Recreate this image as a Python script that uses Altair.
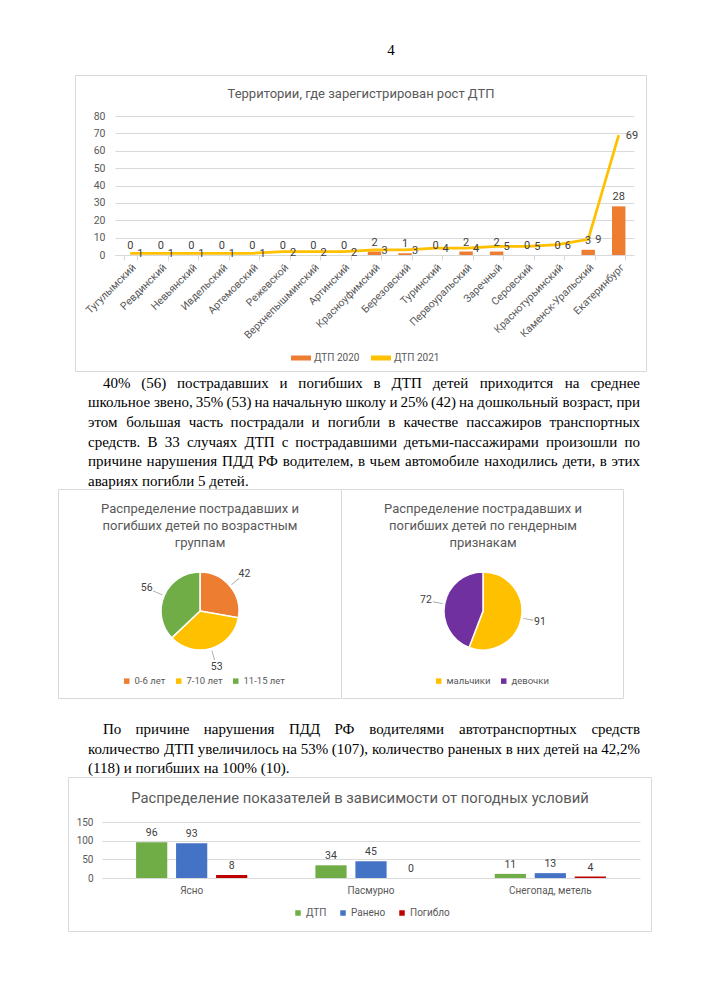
import altair as alt
import pandas as pd

# ---------------- data ----------------
page_number = "4"

territories = ["Тугулымский", "Ревдинский", "Невьянский", "Ивдельский", "Артемовский",
               "Режевской", "Верхнепышминский", "Артинский", "Красноуфимский", "Березовский",
               "Туринский", "Первоуральский", "Заречный", "Серовский", "Краснотурьинский",
               "Каменск-Уральский", "Екатеринбург"]
dtp_2020 = [0, 0, 0, 0, 0, 0, 0, 0, 2, 1, 0, 2, 2, 0, 0, 3, 28]
dtp_2021 = [1, 1, 1, 1, 1, 2, 2, 2, 3, 3, 4, 4, 5, 5, 6, 9, 69]
series_1 = ["ДТП 2020", "ДТП 2021"]
y1_ticks = [0, 10, 20, 30, 40, 50, 60, 70, 80]
title_1 = "Территории, где зарегистрирован рост ДТП"

para_1 = [
    "40% (56) пострадавших и погибших в ДТП детей приходится на среднее",
    "школьное звено, 35% (53) на начальную школу и 25% (42) на дошкольный возраст, при",
    "этом большая часть пострадали и погибли в качестве пассажиров транспортных",
    "средств. В 33 случаях ДТП с пострадавшими детьми-пассажирами произошли по",
    "причине нарушения ПДД РФ водителем, в чьем автомобиле находились дети, в этих",
    "авариях погибли 5 детей.",
]
para_2 = [
    "По причине нарушения ПДД РФ водителями автотранспортных средств",
    "количество ДТП увеличилось на 53% (107), количество раненых в них детей на 42,2%",
    "(118) и погибших на 100% (10).",
]

age_groups = ["0-6 лет", "7-10 лет", "11-15 лет"]
age_counts = [42, 53, 56]
title_age = ["Распределение пострадавших и", "погибших детей по возрастным", "группам"]

genders = ["мальчики", "девочки"]
gender_counts = [91, 72]
title_gender = ["Распределение пострадавших и", "погибших детей по гендерным", "признакам"]

weather = ["Ясно", "Пасмурно", "Снегопад, метель"]
series_3 = ["ДТП", "Ранено", "Погибло"]
w_dtp = [96, 34, 11]
w_injured = [93, 45, 13]
w_killed = [8, 0, 4]
y3_ticks = [0, 50, 100, 150]
title_3 = "Распределение показателей в зависимости от погодных условий"

# ---------------- styles ----------------
SANS = "Roboto"
SERIF = "Liberation Serif"
ORANGE, GOLD, GREEN = "#ED7D31", "#FFC000", "#70AD47"
BLUE, RED, PURPLE = "#4472C4", "#C00000", "#7030A0"
GRID = "#d9d9d9"
BORDER = "#d9d9d9"
TXT = "#595959"
LBL = "#404040"
PAGE_L, PAGE_R = 8, 699
TEXT_L, TEXT_R = 88, 640
INDENT = 15
LINE_H = 19.7
BODY_SIZE = 15

ONE = pd.DataFrame({"k": [0]})


def bg(px, py, x0, x1, y0, y1):
    # invisible rectangle that fixes the extent of a row
    return alt.Chart(ONE).mark_rect(opacity=0, strokeWidth=0).encode(
        x=alt.value(x0 - px), x2=alt.value(x1 - px),
        y=alt.value(y0 - py), y2=alt.value(y1 - py))


def spacer(w):
    return alt.Chart(ONE).mark_rect(opacity=0, strokeWidth=0).encode(
        x=alt.value(0), x2=alt.value(w), y=alt.value(0), y2=alt.value(1)
    ).properties(width=w, height=1)


def hrule(px, py, x0, x1, y):
    return alt.Chart(ONE).mark_rule(color=BORDER, strokeWidth=1).encode(
        x=alt.value(x0 - px), x2=alt.value(x1 - px), y=alt.value(y - py))


def vrule(px, py, x, y0, y1):
    return alt.Chart(ONE).mark_rule(color=BORDER, strokeWidth=1).encode(
        x=alt.value(x - px), y=alt.value(y0 - py), y2=alt.value(y1 - py))


def frame(px, py, x0, x1, y0, y1, sides="tblr"):
    out = []
    if "t" in sides:
        out.append(hrule(px, py, x0 + 0.5, x1 - 0.5, y0 + 0.5))
    if "b" in sides:
        out.append(hrule(px, py, x0 + 0.5, x1 - 0.5, y1 - 0.5))
    if "l" in sides:
        out.append(vrule(px, py, x0 + 0.5, y0 + 0.5, y1 - 0.5))
    if "r" in sides:
        out.append(vrule(px, py, x1 - 0.5, y0 + 0.5, y1 - 0.5))
    return out


def label(px, py, x, y, text, size, color=TXT, font=SANS, align="center", baseline="middle"):
    return alt.Chart(ONE).mark_text(text=text, fontSize=size, color=color, font=font,
                                    align=align, baseline=baseline).encode(
        x=alt.value(x - px), y=alt.value(y - py))


# Times New Roman / Liberation Serif advance widths (1/1000 em), for justification
CW = {" ": 250, "%": 833, "(": 333, ")": 333, ",": 250, ".": 250, "-": 333}
for d in "0123456789":
    CW[d] = 500
CW.update(dict(zip("абвгдеёжзийклмнопрстуфхцчшщъыьэюя",
                   [444, 509, 472, 410, 509, 444, 444, 691, 395, 535, 535, 486, 499, 633, 535, 500,
                    535, 500, 444, 437, 500, 648, 500, 535, 503, 770, 770, 517, 672, 456, 429, 747, 484])))
CW.update(dict(zip("АБВГДЕЖЗИЙКЛМНОПРСТУФХЦЧШЩЭЮЯ",
                   [722, 574, 667, 578, 682, 611, 896, 501, 722, 722, 667, 678, 889, 722, 722, 722,
                    556, 667, 611, 715, 784, 722, 722, 667, 1009, 1009, 660, 1028, 665])))


def text_width(s):
    return sum(CW.get(c, 500) for c in s) / 1000.0 * BODY_SIZE


def layout_line(line, x0, x1, y, justify):
    if not justify:
        return [dict(t=line, x=x0, y=y, a="left")]
    words = line.split(" ")
    widths = [text_width(w) for w in words]
    gap = (x1 - x0 - sum(widths)) / (len(words) - 1)
    rows, x = [], x0
    for i, (w, wd) in enumerate(zip(words, widths)):
        if i == 0:
            rows.append(dict(t=w, x=x0, y=y, a="left"))
        elif i == len(words) - 1:
            rows.append(dict(t=w, x=x1, y=y, a="right"))
        else:
            rows.append(dict(t=w, x=x + wd / 2, y=y, a="center"))
        x += wd + gap
    return rows


def paragraph(lines, first_center, px, py):
    rows = []
    for i, line in enumerate(lines):
        y = first_center + LINE_H * i + 5
        x0 = TEXT_L + (INDENT if i == 0 else 0)
        rows += layout_line(line, x0, TEXT_R, y, justify=(i < len(lines) - 1))
    df = pd.DataFrame(rows)
    df["x"] = df["x"] - px
    df["y"] = df["y"] - py
    layers = []
    for a in ["left", "center", "right"]:
        sub = df[df["a"] == a]
        if len(sub):
            layers.append(alt.Chart(sub).mark_text(align=a, baseline="alphabetic", font=SERIF,
                                                   fontSize=BODY_SIZE, color="#000000").encode(
                x=alt.X("x:Q", scale=None, axis=None),
                y=alt.Y("y:Q", scale=None, axis=None),
                text="t:N"))
    return layers


def value_axis(values, pad, size):
    return alt.Axis(values=values, grid=True, gridColor=GRID, gridWidth=1, domain=False,
                    ticks=False, labelOverlap=False, labelFlush=False, labelPadding=pad,
                    labelFont=SANS, labelFontSize=size, labelColor=TXT, title=None)


# ---------------- row 0: page number ----------------
row0 = alt.layer(
    bg(8, 8, PAGE_L, PAGE_R, 8, 75),
    label(8, 8, 391, 55, page_number, 15, color="#000000", font=SERIF, baseline="alphabetic"),
).properties(width=691, height=67)

# ---------------- row 1: territories chart ----------------
BOX1 = (75, 647, 75, 372)
PX1, PY1, W1, H1 = 115, 116, 519, 139
df1 = pd.DataFrame({"terr": territories, "v2020": dtp_2020, "v2021": dtp_2021,
                    "s": series_1[0]})
yscale1 = alt.Scale(domain=[0, 80], nice=False)
yaxis1 = value_axis(y1_ticks, 10, 10.5)
x1 = alt.X("terr:N", sort=territories, title=None,
           scale=alt.Scale(paddingInner=0.56, paddingOuter=0.28),
           axis=alt.Axis(labelAngle=-45, labelAlign="right", labelBaseline="top", labelFont=SANS,
                         labelFontSize=10.5, labelColor=TXT, labelPadding=2, labelOverlap=False,
                         tickBand="extent", ticks=True, tickSize=5, tickColor=GRID,
                         domainColor=GRID, grid=False))
base1 = alt.Chart(df1).encode(x=x1)
bars1 = base1.mark_bar(color=ORANGE).encode(
    y=alt.Y("v2020:Q", title=None, scale=yscale1, axis=yaxis1),
    color=alt.Color("s:N", scale=alt.Scale(domain=series_1, range=[ORANGE, GOLD]),
                    legend=alt.Legend(orient="none", legendX=176, legendY=232,
                                      direction="horizontal", title=None,
                                      symbolType="M-1,-0.25L1,-0.25L1,0.25L-1,0.25Z",
                                      symbolSize=400, symbolStrokeWidth=0, labelFont=SANS,
                                      labelFontSize=10, labelColor=TXT, columnPadding=11,
                                      labelOffset=3)))
line1 = base1.mark_line(color=GOLD, strokeWidth=2.75).encode(
    y=alt.Y("v2021:Q", title=None, scale=yscale1, axis=yaxis1))
barlab1 = base1.mark_text(dy=-4, baseline="bottom", font=SANS, fontSize=11, color=LBL).encode(
    y=alt.Y("v2020:Q", title=None, scale=yscale1, axis=yaxis1), text="v2020:Q")
linelab1 = base1.mark_text(dx=7, dy=1, align="left", baseline="middle", font=SANS, fontSize=11,
                           color=LBL).encode(
    y=alt.Y("v2021:Q", title=None, scale=yscale1, axis=yaxis1), text="v2021:Q")

chart1 = alt.layer(
    *frame(PX1, PY1, *BOX1),
    label(PX1, PY1, 361, 94, title_1, 13),
    bars1, line1, barlab1, linelab1,
).properties(width=W1, height=H1)
row1 = alt.hconcat(spacer(BOX1[0] - PAGE_L), chart1, spacing=0).resolve_scale(color="independent")

# ---------------- row 2: paragraph 1 ----------------
row2 = alt.layer(
    bg(8, 372, PAGE_L, PAGE_R, 372, 487),
    *paragraph(para_1, 382.5, 8, 372),
).properties(width=691, height=115)


# ---------------- row 3: pies ----------------
def pie_panel(cats, vals, colors, title_lines, box_x0, box_x1, sides,
              cx, cy, r, lab_r, leg_x, leg_y):
    total = float(sum(vals))
    ends, acc = [], 0
    for v in vals:
        acc += v
        ends.append(acc)
    df = pd.DataFrame({"cat": cats, "v": vals, "end": ends})
    df["start"] = df["end"] - df["v"]
    df["mid"] = df["end"] - df["v"] / 2
    df["l0"] = df["mid"] - 0.0015 * total
    df["l1"] = df["mid"] + 0.0015 * total
    px, py = cx - r, cy - r
    th = alt.Scale(domain=[0, total])
    arcs = alt.Chart(df).mark_arc(stroke="white", strokeWidth=1.5).encode(
        theta=alt.Theta("start:Q", scale=th), theta2="end:Q",
        color=alt.Color("cat:N", sort=cats, scale=alt.Scale(domain=cats, range=colors),
                        legend=alt.Legend(orient="none", legendX=leg_x - px, legendY=leg_y - py,
                                          direction="horizontal", title=None, symbolType="square",
                                          symbolSize=30, symbolStrokeWidth=0, labelFont=SANS,
                                          labelFontSize=9.5, labelColor=TXT, columnPadding=8,
                                          labelOffset=3)))
    leaders = alt.Chart(df).mark_arc(color="#a6a6a6").encode(
        theta=alt.Theta("l0:Q", scale=th), theta2="l1:Q",
        radius=alt.value(lab_r - 7), radius2=alt.value(r + 2))
    labels = alt.Chart(df).mark_text(radius=lab_r, font=SANS, fontSize=10.5, color=LBL).encode(
        theta=alt.Theta("mid:Q", scale=th), text="v:Q")
    tcx = (box_x0 + box_x1) / 2
    titles = [label(px, py, tcx, 507 + 17 * i, t, 13) for i, t in enumerate(title_lines)]
    return alt.layer(
        *frame(px, py, box_x0, box_x1, 487, 697, sides),
        *titles, arcs, leaders, labels,
    ).properties(width=2 * r, height=2 * r)


pie_left = pie_panel(age_groups, age_counts, [ORANGE, GOLD, GREEN], title_age,
                     58, 342, "tblr", 200, 609, 39, 58, 122, 674)
pie_right = pie_panel(genders, gender_counts, [GOLD, PURPLE], title_gender,
                      342, 624, "tbr", 483, 609, 39, 58, 434, 674)
row3 = alt.hconcat(spacer(58 - PAGE_L), pie_left, pie_right, spacing=0).resolve_scale(
    color="independent", theta="independent").resolve_legend(color="independent")

# ---------------- row 4: paragraph 2 ----------------
row4 = alt.layer(
    bg(8, 697, PAGE_L, PAGE_R, 697, 773),
    *paragraph(para_2, 727, 8, 697),
).properties(width=691, height=76)

# ---------------- row 5: weather chart ----------------
BOX5 = (68, 652, 773, 928)
PX5, PY5, W5, H5 = 102, 818, 538, 56
rows3 = []
for i, wcat in enumerate(weather):
    for s, vals in zip(series_3, [w_dtp, w_injured, w_killed]):
        rows3.append({"weather": wcat, "series": s, "v": vals[i]})
df3 = pd.DataFrame(rows3)
yscale3 = alt.Scale(domain=[0, 150], nice=False)
yaxis3 = value_axis(y3_ticks, 9, 10)
base3 = alt.Chart(df3).encode(
    x=alt.X("weather:N", sort=weather, title=None,
            scale=alt.Scale(paddingInner=0.38, paddingOuter=0.19),
            axis=alt.Axis(labelAngle=0, ticks=False, tickSize=0, domain=False, labelPadding=7,
                          labelFont=SANS, labelFontSize=10, labelColor=TXT, grid=False)),
    xOffset=alt.XOffset("series:N", sort=series_3, scale=alt.Scale(paddingInner=0.22)),
)
bars3 = base3.mark_bar().encode(
    y=alt.Y("v:Q", title=None, scale=yscale3, axis=yaxis3),
    color=alt.Color("series:N", sort=series_3,
                    scale=alt.Scale(domain=series_3, range=[GREEN, BLUE, RED]),
                    legend=alt.Legend(orient="none", legendX=293 - PX5, legendY=904 - PY5,
                                      direction="horizontal", title=None, symbolType="square",
                                      symbolSize=30, symbolStrokeWidth=0, labelFont=SANS,
                                      labelFontSize=10, labelColor=TXT, columnPadding=11,
                                      labelOffset=3)))
lab3 = base3.mark_text(dy=-4, baseline="bottom", font=SANS, fontSize=10.5, color=LBL).encode(
    y=alt.Y("v:Q", title=None, scale=yscale3, axis=yaxis3), text="v:Q")

chart5 = alt.layer(
    *frame(PX5, PY5, *BOX5),
    label(PX5, PY5, 360, 795, title_3, 14.8),
    bars3, lab3,
).properties(width=W5, height=H5)
row5 = alt.hconcat(spacer(BOX5[0] - PAGE_L), chart5, spacing=0).resolve_scale(color="independent")

chart = alt.vconcat(row0, row1, row2, row3, row4, row5, spacing=0).resolve_scale(
    color="independent", theta="independent").resolve_legend(color="independent").properties(
    padding=0, background="white"
).configure_view(strokeWidth=0).configure_concat(spacing=0)

chart.save("out.html", embed_options={"renderer": "svg", "actions": False})
